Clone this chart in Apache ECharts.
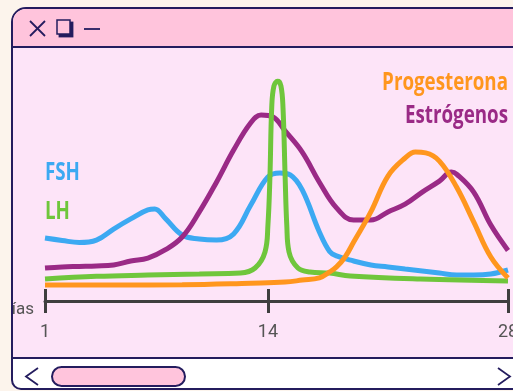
<!DOCTYPE html>
<html>
<head>
<meta charset="utf-8">
<script src="https://cdn.jsdelivr.net/npm/echarts@6/dist/echarts.min.js"></script>
<style>
    body { margin: 0; width: 513px; height: 391px; overflow: hidden; position: relative; background: #fcf4ec; }
    #win { position: absolute; left: 11px; top: 7px; width: 600px; height: 379px; border: 2px solid #241c5e;
           border-radius: 15px 0 0 10px; overflow: hidden; background: #fff; }
    #bar { height: 37px; background: #ffc4dc; border-bottom: 2px solid #241c5e; }
    #content { position: absolute; left: 0; top: 39px; width: 600px; height: 309px; background: #fde4f8;
               border-bottom: 2px solid #241c5e; }
    #chart { position: absolute; left: 0; top: 0; width: 500px; height: 309px; }
    #deco { position: absolute; left: 0; top: 0; pointer-events: none; }
</style>
</head>
<body>
<div id="win">
    <div id="bar"></div>
    <div id="content"><div id="chart"></div></div>
</div>
<svg id="deco" width="513" height="391">
    <g stroke="#241c5e" stroke-width="1.8" fill="none">
        <line x1="30" y1="21" x2="45" y2="36"/>
        <line x1="45" y1="21" x2="30" y2="36"/>
        <rect x="59.5" y="22.5" width="13" height="14" fill="#241c5e"/>
        <rect x="57" y="20" width="13" height="14" fill="#ffc4dc" stroke-width="1.5"/>
        <line x1="84" y1="29" x2="100" y2="29"/>
        <polyline points="38,368 26,376.5 38,385"/>
        <rect x="52" y="367" width="133" height="19" rx="9.5" fill="#ffc4dc" stroke-width="2"/>
        <polyline points="498,368 510,376.5 498,385"/>
    </g>
</svg>
<script>
    // day of the cycle vs. relative hormone level (0-100)
    const tickDays = [1, 14, 28];
    const fsh = [[1, 28.6], [2, 27.5], [3, 26.6], [4, 27.7], [5, 32.7], [6, 37.3], [7, 41.4], [7.4, 41.8],
        [8, 37.7], [9, 30], [10, 28.2], [11, 27.7], [12, 30.5], [13, 43.6], [14, 56.4], [14.7, 58.2],
        [15.3, 57.3], [16, 50.5], [17, 31.4], [17.6, 22.5], [18, 20.5], [19, 18.2], [20, 16.4], [21, 15.5],
        [22, 14.5], [23, 13.6], [24, 12.7], [25, 11.8], [26, 11.8], [27, 12.3], [28, 14.1]];
    const lh = [[1, 10], [4, 11.2], [7, 11.8], [10, 12.3], [12.4, 12.7], [13.25, 15], [13.83, 22.3], [14, 34.5],
        [14.12, 57.3], [14.22, 87.7], [14.35, 97.7], [14.57, 100], [14.76, 97.7], [14.88, 87.7], [15, 57.3],
        [15.1, 34.5], [15.23, 22.3], [15.75, 15], [16.45, 13.2], [17.6, 12.7], [18.8, 11.4], [22.9, 10], [28, 9.1]];
    const estrogen = [[1, 15], [2, 15.5], [3, 15.7], [4, 15.9], [5, 16.4], [6, 18.2], [7, 19.5], [8, 23.2],
        [9, 29.1], [10, 40.5], [11, 54], [12, 68.6], [13, 81], [13.6, 84.5], [14.3, 83.6], [15, 77.3],
        [16, 67.7], [17, 54], [18, 42.3], [19, 36.8], [20, 36.8], [21, 40.5], [22, 44], [23, 49.5], [24, 54.5],
        [24.7, 58.6], [25, 57.7], [26, 49.5], [27, 34.5], [28, 23]];
    const progesterone = [[1, 7.3], [5, 7.3], [9, 7.4], [13, 8.1], [15, 8.6], [16, 9.5], [17, 10.5], [17.6, 13.2],
        [18, 15.5], [18.5, 20], [19, 26.8], [20, 40.5], [21, 56.8], [22, 65], [22.6, 67.7], [23.2, 67.3],
        [24, 63.6], [25, 51.8], [26, 36], [27, 20], [28, 10.5]];

    const axisColor = '#3f3f3f';
    const labelFont = 'Roboto, sans-serif';

    function curve(name, data, color, z) {
        return {
            name: name, type: 'line', data: data, smooth: 0.4, symbol: 'none', z: z,
            lineStyle: {color: color, width: 5}
        };
    }

    // condensed bold series names
    function label(text, x, y, color, align) {
        return {
            type: 'text', x: x, y: y, z: 10, scaleX: 0.75,
            style: {text: text, fill: color, font: 'bold 25px "Open Sans", sans-serif', align: align, verticalAlign: 'middle'}
        };
    }

    const myChart = echarts.init(document.getElementById('chart'));
    const option = {
        animation: false,
        grid: {left: 32, right: 5, top: 33, bottom: 56, outerBoundsMode: 'none', containLabel: false},
        xAxis: [
            {
                type: 'value', min: 1, max: 28,
                name: 'Días', nameLocation: 'start', nameGap: 11,
                nameTextStyle: {color: '#555', fontSize: 17, fontFamily: labelFont, verticalAlign: 'top'},
                axisLine: {lineStyle: {color: axisColor, width: 3}},
                axisTick: {customValues: tickDays, length: 12, lineStyle: {color: axisColor, width: 3}},
                axisLabel: {customValues: tickDays, margin: 22, color: '#555', fontSize: 18, fontFamily: labelFont},
                splitLine: {show: false}
            },
            {
                type: 'value', min: 1, max: 28, position: 'bottom',
                axisLine: {show: false},
                axisTick: {inside: true, customValues: tickDays, length: 12, lineStyle: {color: axisColor, width: 3}},
                axisLabel: {show: false},
                splitLine: {show: false}
            }
        ],
        yAxis: {type: 'value', min: 0, max: 100, show: false},
        series: [
            curve('FSH', fsh, '#3ca9f2', 2),
            curve('Estrógenos', estrogen, '#9a2a86', 3),
            curve('LH', lh, '#6fc63c', 4),
            curve('Progesterona', progesterone, '#ff961e', 5)
        ],
        graphic: [
            label('FSH', 32, 125, '#3ca9f2', 'left'),
            label('LH', 32, 164, '#6fc63c', 'left'),
            label('Progesterona', 495, 35, '#ff961e', 'right'),
            label('Estrógenos', 495, 68, '#9a2a86', 'right')
        ]
    };
    myChart.setOption(option);
</script>
</body>
</html>
